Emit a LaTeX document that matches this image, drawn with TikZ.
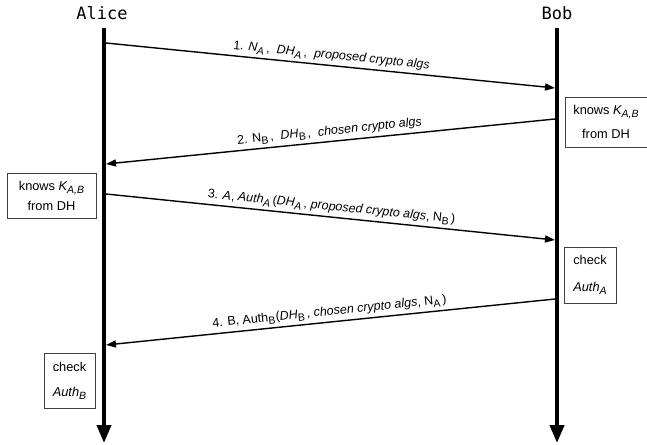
\documentclass[tikz,border=0pt]{standalone}
\usepackage{fontspec}
\setmainfont{Liberation Sans}
\newfontfamily\monofont{DejaVu Sans Mono}
\usetikzlibrary{arrows.meta}
\newcommand{\sbs}[1]{\raisebox{-0.45ex}{\fontsize{10.5}{12}\selectfont #1}}
\begin{document}
\begin{tikzpicture}[x=1pt,y=-1pt,
  lifeline/.style={line width=4pt,-{Triangle[length=18pt,width=14pt]}},
  msg/.style={line width=1.4pt,-{Triangle[length=10pt,width=7pt]}},
  msglabel/.style={midway,sloped,above=3pt,inner sep=0pt,font=\fontsize{12.5}{14}\selectfont},
  actor/.style={font=\monofont\fontsize{17}{19}\selectfont,inner sep=0pt},
  notebox/.style={draw=black!75,line width=0.8pt,align=center,inner sep=0pt,font=\fontsize{12.8}{15}\selectfont}
]
\useasboundingbox (0,0) rectangle (647,444);
% actors
\node[actor] (alice) at (102,13) {Alice};
\node[actor] (bob) at (557,13) {Bob};
% lifelines
\coordinate (atop) at (104,28);
\coordinate (abot) at (104,443);
\coordinate (btop) at (557,28);
\coordinate (bbot) at (557,443);
\draw[lifeline] (atop) -- (abot);
\draw[lifeline] (btop) -- (bbot);
% message end points
\coordinate (m1s) at (106,43);  \coordinate (m1e) at (555,88);
\coordinate (m2s) at (555,119); \coordinate (m2e) at (106,164);
\coordinate (m3s) at (106,194); \coordinate (m3e) at (555,240);
\coordinate (m4s) at (555,299); \coordinate (m4e) at (106,345);
\draw[msg] (m1s) -- (m1e) node[msglabel] (l1) {1. \textit{N\/\sbs{A}}\,,\ \ \textit{DH\/\sbs{A}}\,,\ \ \textit{proposed crypto algs}};
\draw[msg] (m2s) -- (m2e) node[msglabel] (l2) {2. N\sbs{B}\,,\ \ \textit{DH}\sbs{B}\,,\ \ \textit{chosen crypto algs}};
\draw[msg] (m3s) -- (m3e) node[msglabel] (l3) {3. \textit{A}, \textit{Auth\sbs{A}}\,(\textit{DH\/\sbs{A}}\,, \textit{proposed crypto algs}, N\sbs{B}\,)};
\draw[msg] (m4s) -- (m4e) node[msglabel] (l4) {4. B, Auth\sbs{B}\kern0.5pt(\textit{DH}\sbs{B}\,, \textit{chosen crypto algs}, N\sbs{A}\,)};
% note boxes
\node[notebox,minimum width=82pt,minimum height=50pt] (bk) at (606,122) {knows \textit{K\sbs{A,B}}\\[9pt]from DH};
\node[notebox,minimum width=89pt,minimum height=45pt] (ak) at (51.5,195.5) {knows \textit{K\sbs{A,B}}\\[5pt]from DH};
\node[notebox,minimum width=52pt,minimum height=56pt] (bc) at (590,275) {check\\[12pt]\textit{Auth\sbs{A}}};
\node[notebox,minimum width=51pt,minimum height=55pt] (ac) at (69.5,380.5) {check\\[10pt]\textit{Auth\sbs{B}}};
\end{tikzpicture}
\end{document}
